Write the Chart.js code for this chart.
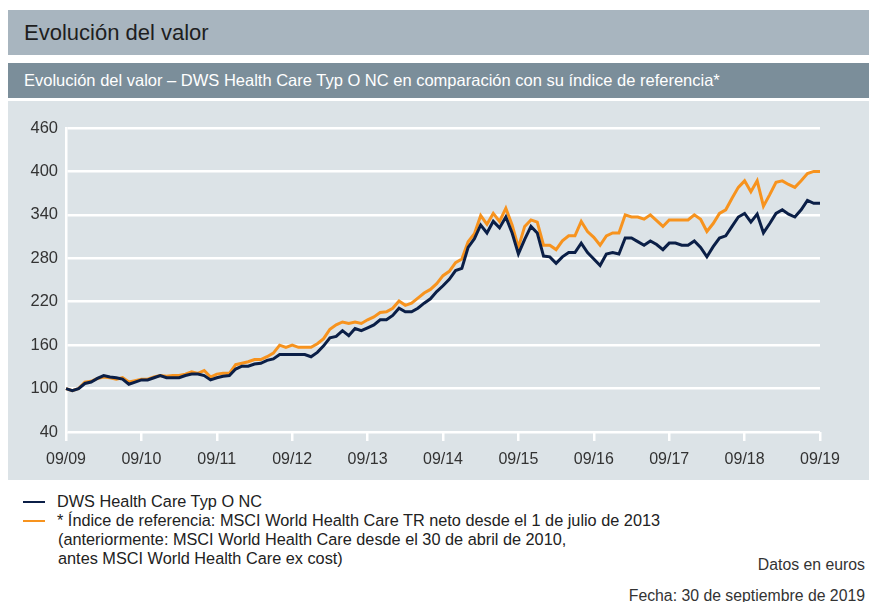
<!DOCTYPE html>
<html lang="es">
<head>
<meta charset="utf-8">
<script src="https://cdn.jsdelivr.net/npm/chart.js@4"></script>
<style>
  body { margin: 0; width: 869px; height: 602px; background: #fff; position: relative; overflow: hidden;
         font-family: "Liberation Sans", Arial, sans-serif; }
  .bar1 { position: absolute; left: 8px; top: 10px; width: 861px; height: 45px; background: #a8b5bf;
          color: #1e1e1e; font-size: 22px; line-height: 45px; }
  .bar1 span, .bar2 span { margin-left: 16px; }
  .bar2 { position: absolute; left: 8px; top: 63px; width: 861px; height: 35px; background: #7b8e9a;
          color: #fff; font-size: 16.5px; line-height: 35px; }
  .panel { position: absolute; left: 8px; top: 101px; width: 861px; height: 379px; background: #dce3e7; }
  #chart { position: absolute; left: 0; top: 0; }
  .legend { position: absolute; left: 23px; top: 492px; font-size: 16.3px; line-height: 19px; color: #222; }
  .row { position: relative; padding-left: 34px; }
  .row i { position: absolute; left: 0; top: 9px; width: 22px; height: 2px; }
  .note { position: absolute; right: 4px; font-size: 15.8px; color: #333; }
</style>
</head>
<body>
<div class="bar1"><span>Evolución del valor</span></div>
<div class="bar2"><span>Evolución del valor – DWS Health Care Typ O NC en comparación con su índice de referencia*</span></div>
<div class="panel"><canvas id="chart" width="861" height="379"></canvas></div>

<div class="legend">
  <div class="row"><i style="background:#0b1f47"></i>DWS Health Care Typ O NC</div>
  <div class="row"><i style="background:#f7931e"></i>* Índice de referencia: MSCI World Health Care TR neto desde el 1 de julio de 2013</div>
  <div class="row" style="padding-left:35px">(anteriormente: MSCI World Health Care desde el 30 de abril de 2010,</div>
  <div class="row" style="padding-left:35px">antes MSCI World Health Care ex cost)</div>
</div>
<div class="note" style="top:556px">Datos en euros</div>
<div class="note" style="top:587px">Fecha: 30 de septiembre de 2019</div>

<script>
// yearly tick labels, data is monthly (09/2009 .. 09/2019)
const tickLabels = ['09/09', '09/10', '09/11', '09/12', '09/13', '09/14', '09/15', '09/16', '09/17', '09/18', '09/19'];

const fund = [
  100, 97, 100, 107, 109, 114, 118, 116, 115, 113, 106, 109,
  112, 112, 115, 118, 115, 115, 115, 118, 120, 120, 118, 112,
  115, 117, 118, 127, 131, 131, 134, 135, 139, 141, 147, 147,
  147, 147, 147, 144, 150, 159, 170, 172, 180, 173, 183, 180,
  184, 188, 195, 195, 201, 211, 206, 206, 211, 218, 224, 234,
  242, 251, 263, 266, 295, 307, 326, 315, 331, 322, 337, 315,
  286, 306, 324, 315, 283, 282, 273, 282, 288, 288, 301, 288,
  279, 270, 286, 288, 286, 308, 308, 303, 298, 304, 299, 292,
  301, 301, 298, 298, 304, 295, 282, 296, 308, 311, 324, 337,
  342, 330, 341, 315, 328, 342, 347, 341, 337, 347, 360, 356, 356
];

const benchmark = [
  100, 97, 100, 109, 110, 114, 116, 115, 113, 115, 109, 111,
  113, 113, 116, 118, 117, 118, 118, 120, 123, 121, 125, 116,
  120, 121, 121, 133, 135, 137, 140, 140, 144, 149, 160, 157,
  160, 157, 157, 157, 162, 169, 182, 188, 192, 190, 192, 190,
  195, 199, 205, 206, 211, 221, 215, 218, 225, 232, 237, 245,
  256, 262, 274, 279, 303, 314, 339, 327, 342, 331, 349, 326,
  295, 324, 333, 330, 298, 298, 292, 304, 311, 311, 331, 317,
  309, 298, 311, 315, 315, 340, 337, 337, 334, 340, 332, 324,
  333, 333, 333, 333, 340, 334, 317, 328, 342, 347, 363, 378,
  387, 372, 387, 352, 368, 385, 387, 382, 378, 387, 397, 400, 400
];

// one label per month, only the September ones carry text
const labels = fund.map((v, i) => (i % 12 === 0 ? tickLabels[i / 12] : ''));

const tickFont = { family: '"Liberation Sans", Arial, sans-serif', size: 16 };

new Chart(document.getElementById('chart'), {
  type: 'line',
  data: {
    labels: labels,
    datasets: [
      { label: 'DWS Health Care Typ O NC', data: fund, borderColor: '#0b1f47', borderWidth: 3 },
      { label: 'Índice de referencia', data: benchmark, borderColor: '#f7931e', borderWidth: 3 }
    ]
  },
  options: {
    responsive: false,
    animation: false,
    elements: { point: { radius: 0 }, line: { tension: 0 } },
    layout: { padding: { top: 27, right: 49, left: 0, bottom: 0 } },
    plugins: { legend: { display: false }, tooltip: { enabled: false } },
    scales: {
      x: {
        afterFit: s => { s.height = 48; },
        grid: { drawOnChartArea: false, drawTicks: true, tickLength: 9, color: '#fff', lineWidth: 2.5 },
        border: { display: false },
        ticks: {
          autoSkip: false, maxRotation: 0, padding: 9, color: '#333', font: tickFont,
          callback: (v, i) => (labels[i] ? labels[i] : null)
        }
      },
      y: {
        min: 40, max: 460,
        afterFit: s => { s.width = 58; },
        grid: { color: '#fff', lineWidth: 2.5, drawTicks: false },
        border: { display: true, color: '#fff', width: 2.5 },
        ticks: { stepSize: 60, padding: 8, color: '#333', font: { family: tickFont.family, size: 16.5 } }
      }
    }
  }
});
</script>
</body>
</html>
